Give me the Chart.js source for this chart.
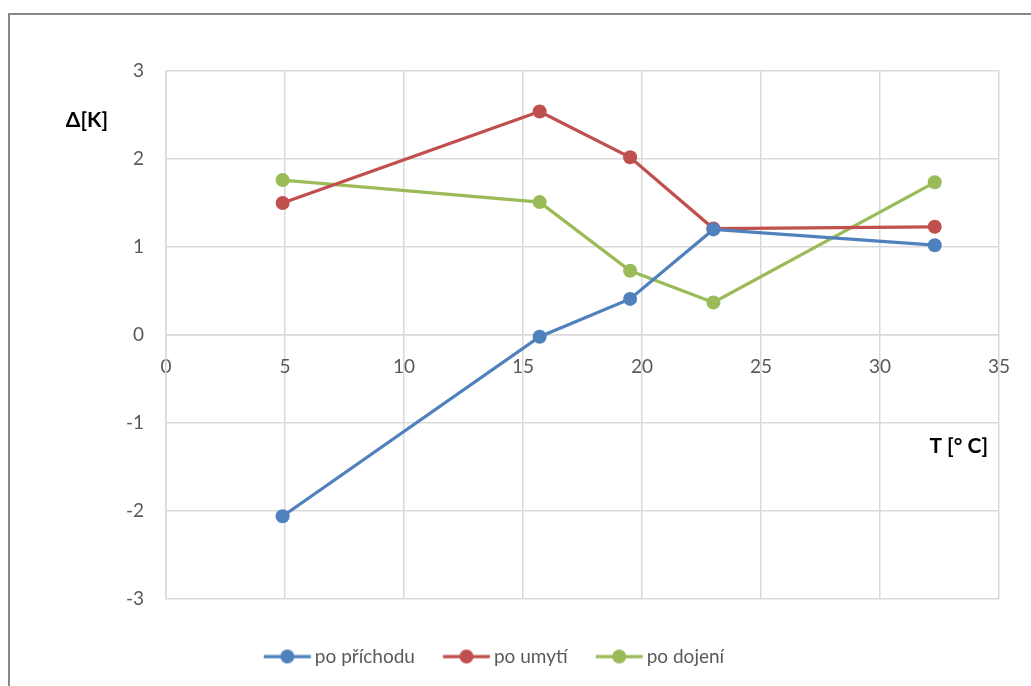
<!DOCTYPE html>
<html>
<head>
<meta charset="utf-8">
<script src="https://cdn.jsdelivr.net/npm/chart.js@4.4.1/dist/chart.umd.min.js"></script>
<style>
  html, body { margin: 0; padding: 0; background: #fff; overflow: hidden; }
  #wrap { position: relative; width: 1031px; height: 686px; }
  #ramecek { position: absolute; left: 8px; top: 13px; width: 1100px; height: 800px; border: 2px solid #878787; box-sizing: border-box; }
  #graf { position: absolute; left: 0; top: 0; }
</style>
</head>
<body>
<div id="wrap">
  <div id="ramecek"></div>
  <canvas id="graf" width="1031" height="686"></canvas>
</div>
<script>
// Teplota prostředí [°C] a rozdíly teplot Δ[K]
const teploty = [4.9, 15.7, 19.5, 23.0, 32.3];
const poPrichodu = [-2.06, -0.02, 0.41, 1.2, 1.02];
const poUmyti = [1.5, 2.54, 2.02, 1.21, 1.23];
const poDojeni = [1.76, 1.51, 0.73, 0.37, 1.735];
const nazvyRad = ['po příchodu', 'po umytí', 'po dojení'];
const barvy = ['#4f81bd', '#c0504d', '#9bbb59'];

const pismo = 'Lato, "Open Sans", sans-serif';

// Značka do legendy: čára s kolečkem, posunutá v plátně doleva kvůli rozestupům
function znackaLegendy(barva) {
    const c = document.createElement('canvas');
    c.width = 94;
    c.height = 18;
    const g = c.getContext('2d');
    const od = 20.75;
    g.strokeStyle = barva;
    g.lineWidth = 3.25;
    g.beginPath();
    g.moveTo(od, 9);
    g.lineTo(od + 47, 9);
    g.stroke();
    g.fillStyle = barva;
    g.beginPath();
    g.arc(od + 23.5, 9, 7, 0, Math.PI * 2);
    g.fill();
    return c;
}

function body(hodnoty) {
    return teploty.map((t, i) => ({ x: t, y: hodnoty[i] }));
}

function rada(nazev, hodnoty, barva) {
    return {
        label: nazev,
        data: body(hodnoty),
        borderColor: barva,
        backgroundColor: barva,
        borderWidth: 3.25,
        pointRadius: 7,
        pointHoverRadius: 7,
        pointBorderWidth: 0,
        tension: 0
    };
}

// Popisky os umístěné přímo do grafu
const popiskyOs = {
    id: 'popiskyOs',
    afterDraw(chart) {
        const { ctx, chartArea, scales } = chart;
        ctx.save();
        ctx.font = 'bold 21px ' + pismo;
        ctx.fillStyle = '#000';
        ctx.textBaseline = 'middle';
        ctx.textAlign = 'right';
        ctx.fillText('Δ[K]', chartArea.left - 58, scales.y.getPixelForValue(2.44));
        ctx.fillText('T [° C]', chartArea.right - 11, scales.y.getPixelForValue(-1.26));
        ctx.restore();
    }
};

const ctx = document.getElementById('graf').getContext('2d');
new Chart(ctx, {
    type: 'line',
    data: {
        datasets: [
            rada(nazvyRad[0], poPrichodu, barvy[0]),
            rada(nazvyRad[1], poUmyti, barvy[1]),
            rada(nazvyRad[2], poDojeni, barvy[2])
        ]
    },
    options: {
        responsive: false,
        animation: false,
        layout: { padding: { left: 0, right: 32, top: 71, bottom: 10 } },
        scales: {
            x: {
                type: 'linear',
                position: { y: 0 },
                min: 0,
                max: 35,
                ticks: { stepSize: 5, color: '#595959', font: { family: pismo, size: 19 }, padding: 20 },
                grid: { color: '#d9d9d9', lineWidth: 1.5, drawTicks: false },
                border: { color: '#d9d9d9', width: 1.5 }
            },
            y: {
                min: -3,
                max: 3,
                ticks: { stepSize: 1, color: '#595959', font: { family: pismo, size: 19 }, padding: 22 },
                grid: { color: '#d9d9d9', lineWidth: 1.5, drawTicks: false },
                border: { color: '#d9d9d9', width: 1.5 },
                afterFit: s => { s.width = 166; }
            }
        },
        plugins: {
            tooltip: { enabled: false },
            legend: {
                position: 'bottom',
                maxHeight: 77,
                title: { display: true, text: '', padding: 0, font: { size: 9, lineHeight: 1 } },
                labels: {
                    usePointStyle: true,
                    pointStyleWidth: 30.5,
                    padding: 39,
                    color: '#595959',
                    font: { family: pismo, size: 19 },
                    generateLabels(chart) {
                        const polozky = Chart.defaults.plugins.legend.labels.generateLabels(chart);
                        polozky.forEach((p, i) => { p.pointStyle = znackaLegendy(barvy[i]); });
                        return polozky;
                    }
                }
            }
        }
    },
    plugins: [popiskyOs]
});
</script>
</body>
</html>
